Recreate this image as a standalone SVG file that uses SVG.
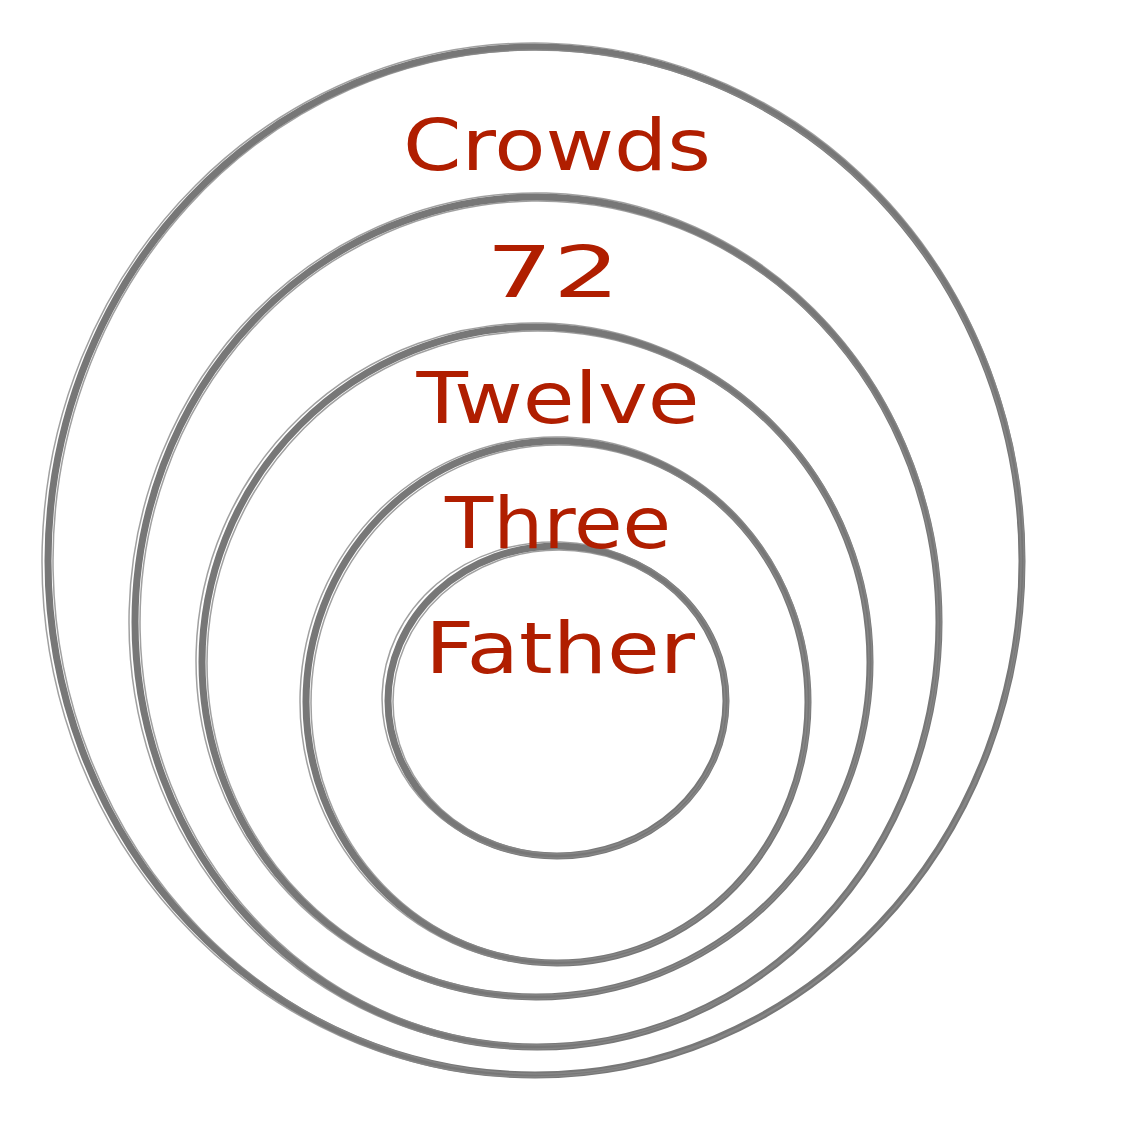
<svg xmlns="http://www.w3.org/2000/svg" width="1122" height="1122" viewBox="0 0 1122 1122">
<style>
.ring{fill:none;stroke:#777777;stroke-width:7}
.sk{fill:none;stroke:#888888;stroke-width:1.5;opacity:0.8}
.lbl{font-family:"DejaVu Sans","Noto Sans",sans-serif;font-size:72px;fill:#B01E00;text-anchor:middle}
</style>
<rect width="1122" height="1122" fill="#ffffff"/>
<g id="connectors"></g>
<g id="ring-crowds">
<ellipse class="ring" cx="535" cy="561" rx="487" ry="514"/>
<ellipse class="sk" cx="533" cy="560" rx="491" ry="517" transform="rotate(1.5 535 561)"/>
<ellipse class="sk" cx="537" cy="562" rx="484" ry="512" transform="rotate(-1 535 561)"/>
</g>
<g id="ring-72">
<ellipse class="ring" cx="537" cy="622" rx="402" ry="425"/>
<ellipse class="sk" cx="535" cy="621" rx="406" ry="428" transform="rotate(1.5 537 622)"/>
<ellipse class="sk" cx="539" cy="623" rx="399" ry="422" transform="rotate(-1 537 622)"/>
</g>
<g id="ring-twelve">
<ellipse class="ring" cx="536" cy="662" rx="334" ry="335"/>
<ellipse class="sk" cx="534" cy="661" rx="338" ry="338" transform="rotate(1.5 536 662)"/>
<ellipse class="sk" cx="538" cy="663" rx="331" ry="332"/>
</g>
<g id="ring-three">
<ellipse class="ring" cx="557" cy="702" rx="251" ry="261"/>
<ellipse class="sk" cx="555" cy="701" rx="255" ry="264" transform="rotate(2 557 702)"/>
<ellipse class="sk" cx="559" cy="703" rx="248" ry="258"/>
</g>
<g id="ring-father">
<ellipse class="ring" cx="557" cy="701" rx="169" ry="155"/>
<ellipse class="sk" cx="555" cy="700" rx="173" ry="158" transform="rotate(2 557 701)"/>
<ellipse class="sk" cx="559" cy="702" rx="166" ry="152"/>
</g>
<g id="labels">
<text class="lbl" x="557" y="170" textLength="308" lengthAdjust="spacingAndGlyphs">Crowds</text>
<text class="lbl" x="553" y="297" textLength="134" lengthAdjust="spacingAndGlyphs">72</text>
<text class="lbl" x="558" y="423" textLength="283" lengthAdjust="spacingAndGlyphs">Twelve</text>
<text class="lbl" x="558" y="548" textLength="226" lengthAdjust="spacingAndGlyphs">Three</text>
<text class="lbl" x="560" y="673" textLength="270" lengthAdjust="spacingAndGlyphs">Father</text>
</g>
</svg>
